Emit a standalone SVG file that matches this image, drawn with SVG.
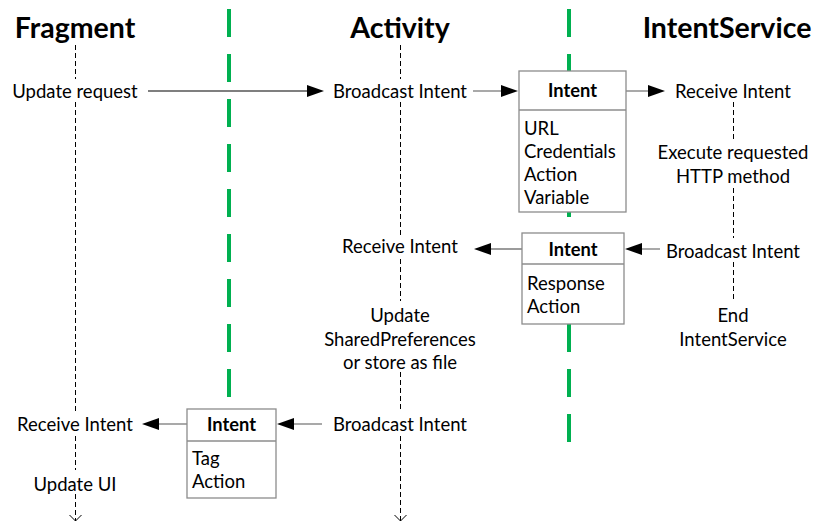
<svg xmlns="http://www.w3.org/2000/svg" width="816" height="525" viewBox="0 0 816 525">
<style>
text{font-family:Lato,"Liberation Sans",sans-serif;fill:#000}
.t{font-size:28.5px;font-weight:bold;text-anchor:middle}
.l{font-size:18.5px;text-anchor:middle}
.b{font-size:18.5px}
.h{font-size:18.3px;font-weight:bold;text-anchor:middle}
.green{stroke:#00b050;stroke-width:4;stroke-dasharray:28 17;fill:none}
.life{stroke:#000;stroke-width:1;stroke-dasharray:5 3;fill:none}
.box{fill:#fff;stroke:#8c8c8c;stroke-width:1.3}
.div{stroke:#8c8c8c;stroke-width:1.3}
.arr{stroke:#7a7a7a;stroke-width:1.3;fill:none}
.arrk{stroke:#000;stroke-width:1.2;fill:none}
.head{fill:#000}
.open{fill:none;stroke:#000;stroke-width:1}
</style>
<rect width="816" height="525" fill="#fff"/>
<g id="titles">
<text class="t" x="75" y="38">Fragment</text>
<text class="t" x="400" y="38">Activity</text>
<text class="t" x="727" y="38">IntentService</text>
</g>
<g id="separators">
<line class="green" x1="229" y1="9" x2="229" y2="397"/>
<line class="green" x1="569" y1="9" x2="569" y2="442"/>
</g>
<g id="lifelines">
<path class="life" d="M75.5 45V79M75.5 102V412M75.5 436V470M75.5 494V521"/>
<path class="life" d="M400.5 45V79M400.5 102V235M400.5 259V301M400.5 372V412M400.5 436V521"/>
<path class="life" d="M733.5 102V142M733.5 188V238M733.5 262V302"/>
<path class="open" d="M69.5 515L75.5 521L81.5 515"/>
<path class="open" d="M394.5 515L400.5 521L406.5 515"/>
</g>
<g id="connectors">
<line class="arrk" x1="148" y1="91" x2="310" y2="91"/>
<polygon class="head" points="324,91 307,85 307,97"/>
<line class="arr" x1="473" y1="91" x2="505" y2="91"/>
<polygon class="head" points="518,91 501,85 501,97"/>
<line class="arr" x1="626" y1="91" x2="652" y2="91"/>
<polygon class="head" points="665,91 648,85 648,97"/>
<line class="arr" x1="660" y1="249" x2="637" y2="249"/>
<polygon class="head" points="625,249 642,243 642,255"/>
<line class="arr" x1="522" y1="249" x2="487" y2="249"/>
<polygon class="head" points="474,249 491,243 491,255"/>
<line class="arr" x1="322" y1="424" x2="290" y2="424"/>
<polygon class="head" points="277,424 294,418 294,430"/>
<line class="arr" x1="187" y1="424" x2="155" y2="424"/>
<polygon class="head" points="142,424 159,418 159,430"/>
</g>
<g id="fragment-labels">
<text class="l" x="75" y="97.5">Update request</text>
<text class="l" x="75" y="430.5">Receive Intent</text>
<text class="l" x="75" y="490.5">Update UI</text>
</g>
<g id="activity-labels">
<text class="l" x="400" y="97.5">Broadcast Intent</text>
<text class="l" x="400" y="252.5">Receive Intent</text>
<text class="l" x="400" y="321.5">Update</text>
<text class="l" x="400" y="345.5">SharedPreferences</text>
<text class="l" x="400" y="368.5">or store as file</text>
<text class="l" x="400" y="430.5">Broadcast Intent</text>
</g>
<g id="service-labels">
<text class="l" x="733" y="97.5">Receive Intent</text>
<text class="l" x="733" y="158.5">Execute requested</text>
<text class="l" x="733" y="182.5">HTTP method</text>
<text class="l" x="733" y="257.5">Broadcast Intent</text>
<text class="l" x="733" y="321.5">End</text>
<text class="l" x="733" y="345.5">IntentService</text>
</g>
<g id="intent1">
<rect class="box" x="519" y="71" width="107" height="141"/>
<line class="div" x1="519" y1="110" x2="626" y2="110"/>
<text class="h" x="572.5" y="96.5">Intent</text>
<text class="b" x="524" y="134.5">URL</text>
<text class="b" x="524" y="157.5">Credentials</text>
<text class="b" x="524" y="180.5">Action</text>
<text class="b" x="524" y="203.5">Variable</text>
</g>
<g id="intent2">
<rect class="box" x="522" y="233" width="102" height="91"/>
<line class="div" x1="522" y1="264" x2="624" y2="264"/>
<text class="h" x="573" y="255.5">Intent</text>
<text class="b" x="527" y="289.5">Response</text>
<text class="b" x="527" y="312.5">Action</text>
</g>
<g id="intent3">
<rect class="box" x="187" y="409" width="89" height="89"/>
<line class="div" x1="187" y1="441" x2="276" y2="441"/>
<text class="h" x="231.5" y="430.5">Intent</text>
<text class="b" x="192" y="464.5">Tag</text>
<text class="b" x="192" y="487.5">Action</text>
</g>
</svg>
